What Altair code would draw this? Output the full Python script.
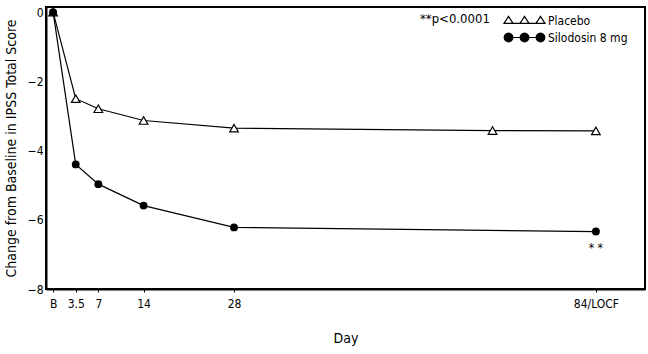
import math
import altair as alt
import pandas as pd

# ---- data ----
placebo_days = [0, 3.5, 7, 14, 28, 68, 84]
placebo_vals = [0, -2.50, -2.79, -3.13, -3.35, -3.42, -3.43]
silo_days = [0, 3.5, 7, 14, 28, 84]
silo_vals = [0, -4.40, -4.97, -5.59, -6.22, -6.34]
series_names = ["Placebo", "Silodosin 8 mg"]
tick_values = [0, 3.5, 7, 14, 28, 84]
tick_labels = ["B", "3.5", "7", "14", "28", "84/LOCF"]
y_ticks = [0, -2, -4, -6, -8]
sig_note = "**p<0.0001"
sig_mark = "* *"

df = pd.DataFrame({
    "day": placebo_days + silo_days,
    "value": placebo_vals + silo_vals,
    "series": [series_names[0]] * len(placebo_days) + [series_names[1]] * len(silo_days),
})
ann = pd.DataFrame({"day": [silo_days[-1]], "value": [silo_vals[-1]], "text": [sig_mark]})

FONT = "Liberation Sans Narrow, Arial Narrow, DejaVu Sans Condensed, sans-serif"

label_expr = ""
for v, l in zip(tick_values, tick_labels):
    label_expr += f"datum.value == {v} ? '{l}' : "
label_expr += "datum.label"

xs = alt.Scale(domain=[-1.1, 91.6], nice=False, zero=False)
ys = alt.Scale(domain=[-8, 0.15], nice=False, zero=False)

x_enc = alt.X("day:Q", scale=xs, title="Day",
              axis=alt.Axis(values=tick_values, labelExpr=label_expr, grid=False,
                            tickSize=3, tickColor="black", domainColor="black", domainWidth=2,
                            labelFont=FONT, labelFontSize=12, labelColor="black", labelPadding=6,
                            titleFont=FONT, titleFontSize=14, titleFontWeight="normal",
                            titleColor="black", titlePadding=22))
y_enc = alt.Y("value:Q", scale=ys, title="Change from Baseline in IPSS Total Score",
              axis=alt.Axis(values=y_ticks, grid=False, ticks=False, domainColor="black",
                            domainWidth=2, labelFont=FONT, labelFontSize=12, labelColor="black",
                            labelPadding=3, titleFont=FONT, titleFontSize=14,
                            titleFontWeight="normal", titleColor="black", titlePadding=9))

base = alt.Chart(df)
lines = base.mark_line(color="black", strokeWidth=1.2).encode(x=x_enc, y=y_enc, detail="series:N")
tri = base.transform_filter(alt.datum.series == series_names[0]).mark_point(
    shape="triangle-up", size=75, filled=True, fill="white", stroke="black", strokeWidth=1.2, opacity=1
).encode(x="day:Q", y="value:Q")
circ = base.transform_filter(alt.datum.series == series_names[1]).mark_circle(
    size=62, color="black", opacity=1
).encode(x="day:Q", y="value:Q")
txt = alt.Chart(ann).mark_text(dy=16, font=FONT, fontSize=12, color="black").encode(
    x="day:Q", y="value:Q", text="text:N")

# ---- legend symbols: three markers joined by a line ----
cx = [-0.78, 0.0, 0.78]
tri_path = " ".join(f"M{c-0.22:.3f},0.14 L{c+0.22:.3f},0.14 L{c:.3f},-0.2 Z" for c in cx)
tri_path += " M-0.56,0.14 L-0.22,0.14 M0.22,0.14 L0.56,0.14"
def poly(c, r=0.21, n=16):
    pts = [(c + r * math.cos(2 * math.pi * k / n), r * math.sin(2 * math.pi * k / n)) for k in range(n)]
    return "M" + " L".join(f"{x:.3f},{y:.3f}" for x, y in pts) + " Z"
circ_path = " ".join(poly(c) for c in cx) + " M-0.57,0 L-0.21,0 M0.21,0 L0.57,0"
SYM = 1681

leg1 = base.transform_filter("false").mark_point().encode(
    shape=alt.Shape("series:N", scale=alt.Scale(domain=[series_names[0]], range=[tri_path]),
                    legend=alt.Legend(title=sig_note, titleOrient="left", titleAnchor="middle",
                                      titleBaseline="top",
                                      orient="none", legendX=374, legendY=-8, padding=0,
                                      symbolSize=SYM,
                                      symbolFillColor="white", symbolStrokeColor="black",
                                      symbolStrokeWidth=1.2, symbolOpacity=1,
                                      labelFont=FONT, labelFontSize=12, labelColor="black",
                                      labelOffset=2, titleFont=FONT, titleFontSize=13,
                                      titleFontWeight="normal", titleColor="black",
                                      titlePadding=13))
)
leg2 = base.transform_filter("false").mark_point(filled=True).encode(
    fill=alt.Fill("series:N", scale=alt.Scale(domain=[series_names[1]], range=["black"]),
                  legend=alt.Legend(title=None, orient="none", legendX=457, legendY=9,
                                    padding=0, symbolType=circ_path, symbolSize=SYM,
                                    symbolStrokeColor="black", symbolStrokeWidth=1.2,
                                    symbolOpacity=1, labelFont=FONT, labelFontSize=12,
                                    labelColor="black", labelOffset=2))
)

chart = alt.layer(lines, tri, circ, txt, leg1, leg2).resolve_scale(
    shape="independent", fill="independent"
).properties(
    width=599, height=282,
    autosize=alt.AutoSizeParams(type="none"),
    padding={"left": 46, "top": 7, "right": 3, "bottom": 65},
    background="white",
).configure_view(stroke="black", strokeWidth=2)

chart.save("out.html", embed_options={"renderer": "svg", "actions": False})
